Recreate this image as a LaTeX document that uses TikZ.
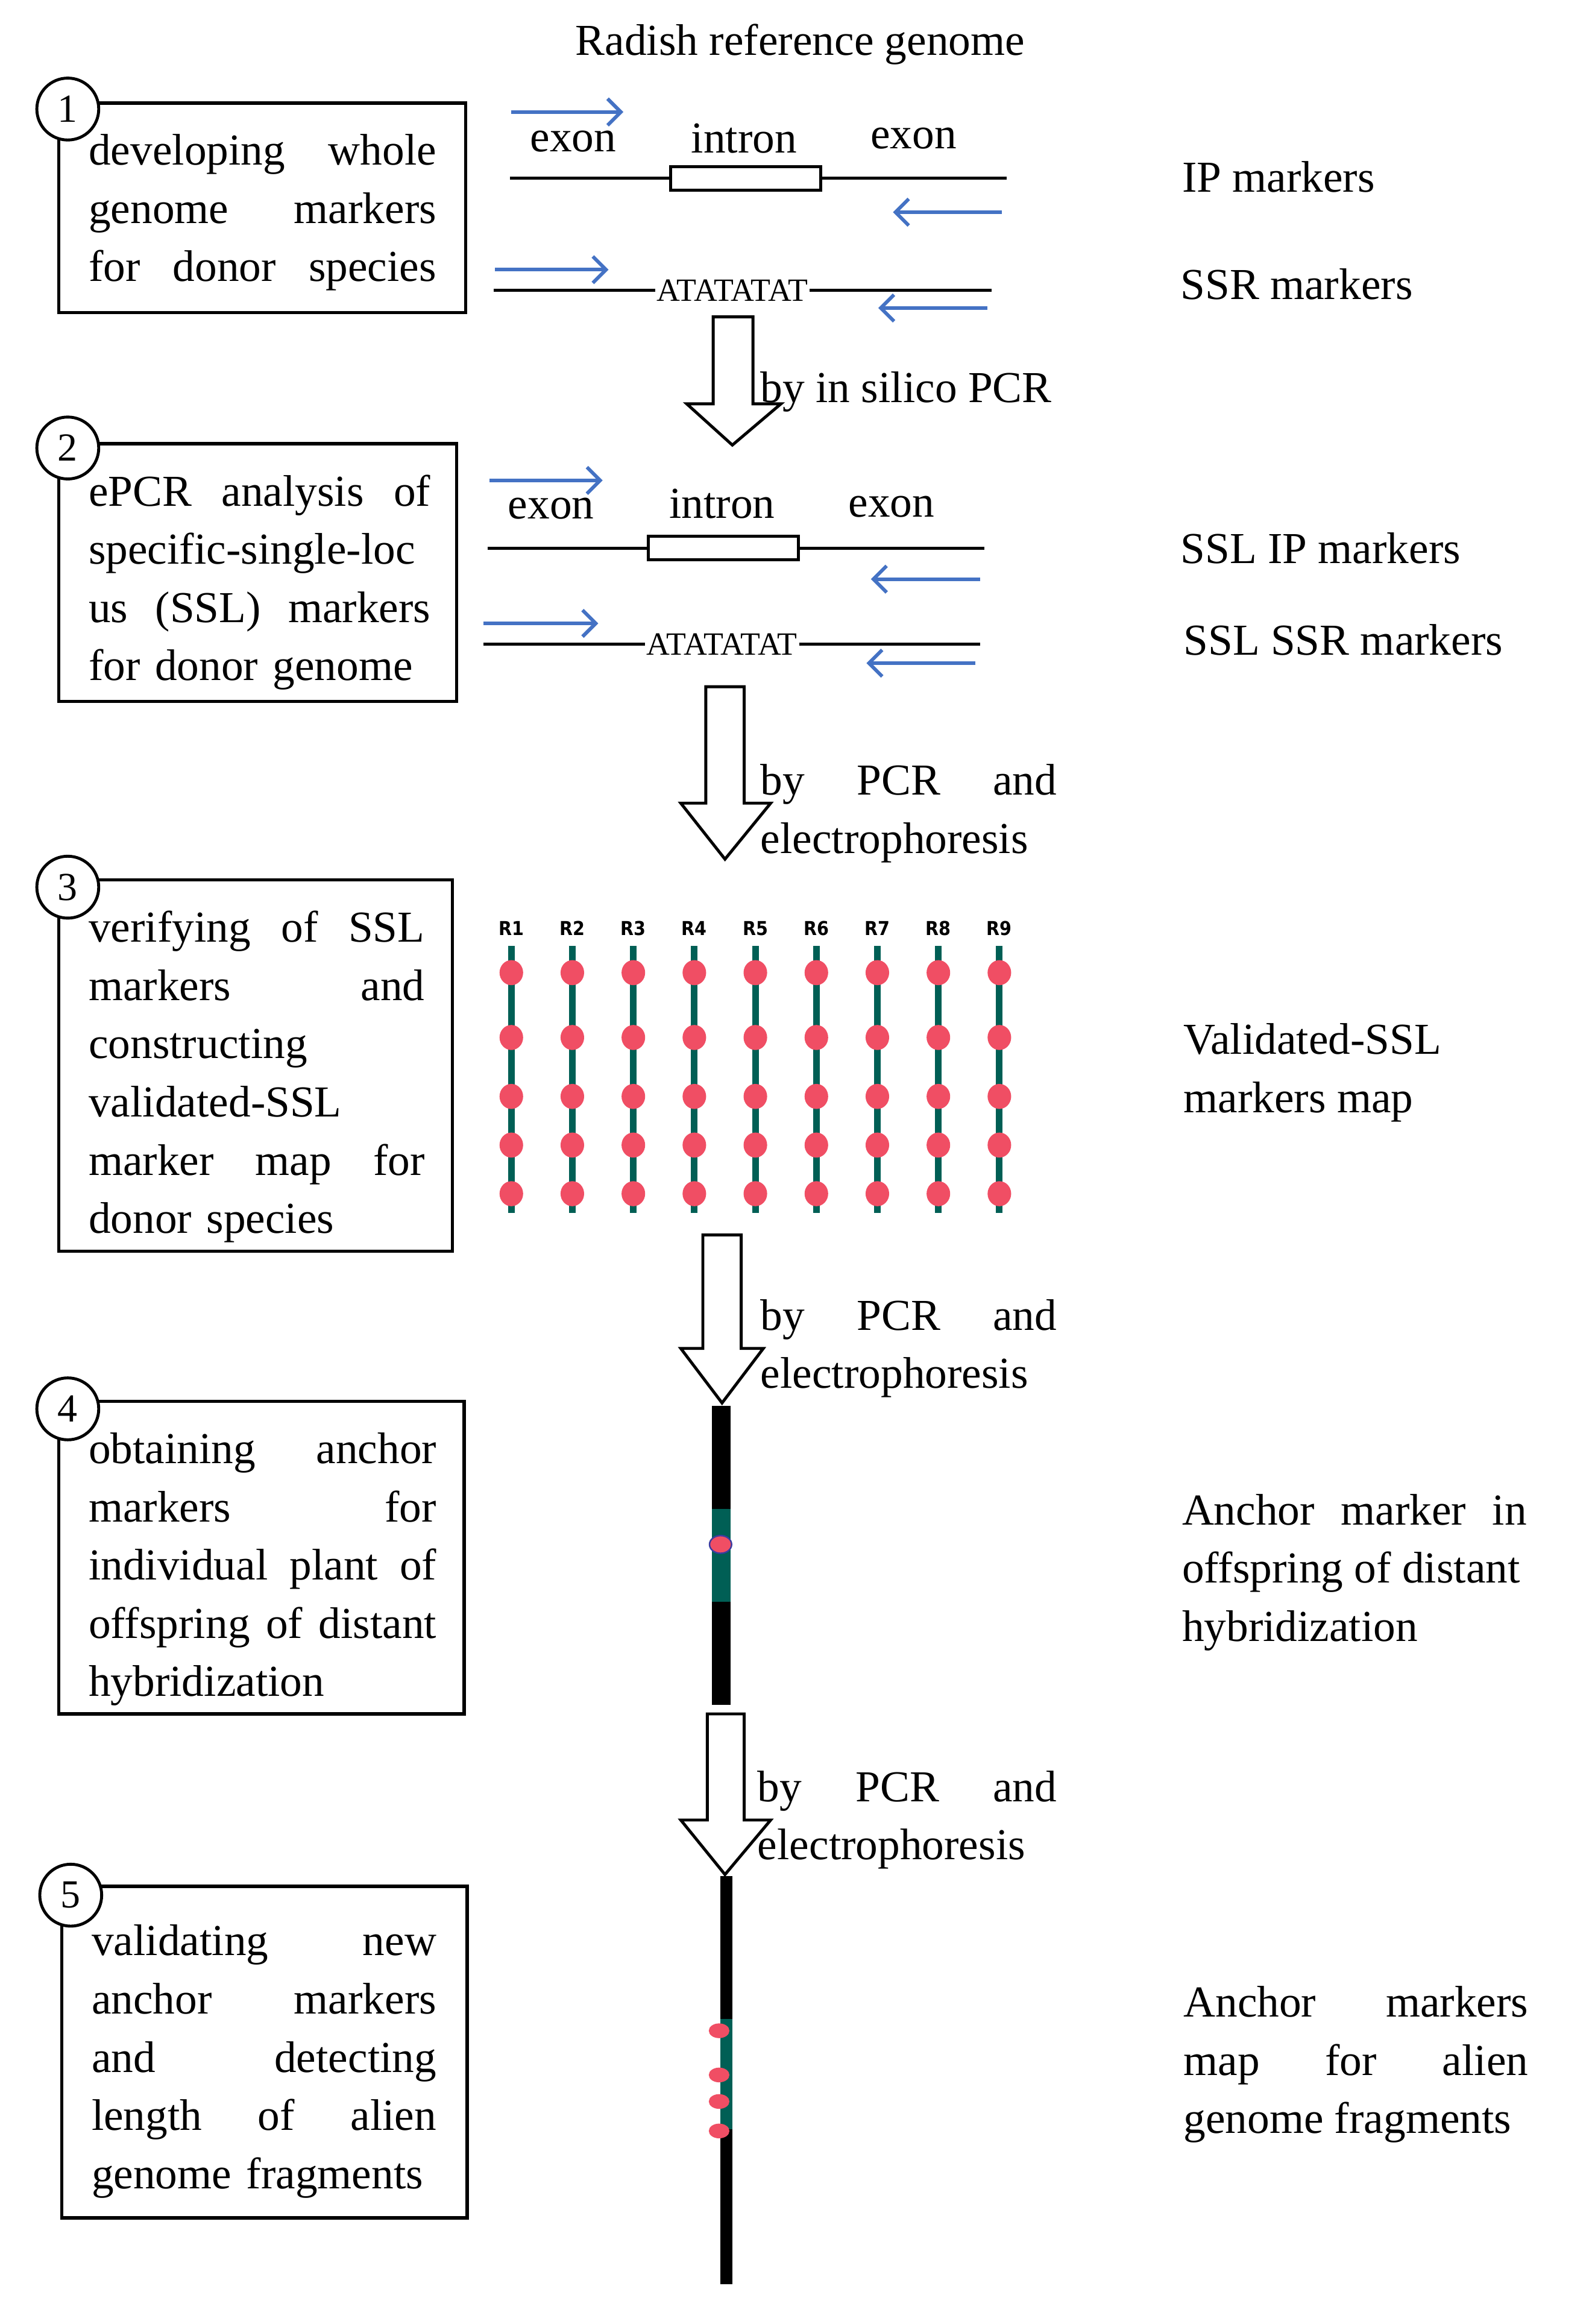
\documentclass[tikz,border=0pt]{standalone}
\usepackage{fontspec}
\setmainfont{Liberation Serif}
\newfontfamily\rsans{DejaVu Sans Condensed}
\usetikzlibrary{arrows.meta,shapes.geometric}
\definecolor{tealc}{RGB}{0,95,85}
\definecolor{pinkc}{RGB}{240,78,100}
\definecolor{bluec}{RGB}{68,114,196}
\definecolor{dotedge}{RGB}{60,60,160}
\newcommand{\jl}[2]{\makebox[#1pt][s]{\spaceskip=0.25em plus 1fill\relax #2}}
\begin{document}
\begin{tikzpicture}[x=1pt,y=-1pt,
 txt/.style={font=\fontsize{30}{39.5}\selectfont,inner sep=0pt},
 boxt/.style={txt,text width=236pt,align=left,anchor=north west},
 box/.style={draw,line width=2.2pt},
 num/.style={circle,draw,fill=white,line width=2pt,minimum size=42pt,inner sep=0pt,font=\fontsize{27}{27}\selectfont},
 blu/.style={draw=bluec,line width=2.4pt,-{Straight Barb[length=9pt,width=18pt]}},
 blk/.style={draw,line width=2pt,fill=white},
 dot/.style={ellipse,fill=pinkc,inner sep=0pt,minimum width=16pt,minimum height=17pt},
 atxt/.style={inner sep=1pt,font=\fontsize{22}{22}\selectfont},
 gene/.style={line width=2pt}]
\useasboundingbox (0,0) rectangle (1080,1577);
% title
\node[txt] (title) at (543,30) {Radish reference genome};
% boxes
\draw[box] (40,70) rectangle (316,212);
\node[boxt] (t1) at (60,91) {\jl{236}{developing whole}\\\jl{236}{genome markers}\\\jl{236}{for donor species}};
\draw[box] (40,301) rectangle (310,476);
\node[boxt] (t2) at (60,322) {\jl{232}{ePCR analysis of}\\\jl{232}{specific-single-loc}\\\jl{232}{us (SSL) markers}\\for donor genome};
\draw[box] (40,597) rectangle (307,849);
\node[boxt] (t3) at (60,618) {\jl{228}{verifying of SSL}\\\jl{228}{markers and}\\constructing\\validated-SSL\\\jl{228}{marker map for}\\donor species};
\draw[box] (40,951) rectangle (315,1163);
\node[boxt] (t4) at (60,972) {\jl{236}{obtaining anchor}\\\jl{236}{markers for}\\\jl{236}{individual plant of}\\\jl{236}{offspring of distant}\\hybridization};
\draw[box] (42,1280) rectangle (317,1505);
\node[boxt] (t5) at (62,1306) {\jl{234}{validating new}\\\jl{234}{anchor markers}\\\jl{234}{and detecting}\\\jl{234}{length of alien}\\genome fragments};
\node[num] (n1) at (46,74) {1};
\node[num] (n2) at (46,304) {2};
\node[num] (n3) at (46,602) {3};
\node[num] (n4) at (46,956) {4};
\node[num] (n5) at (48,1286) {5};
% row 1 IP
\node[txt] (e1) at (389,96) {exon};
\node[txt] (i1) at (505,94) {intron};
\node[txt] (e2) at (620,94) {exon};
\draw[gene] (346,121) -- (455,121) (557,121) -- (683,121);
\draw[gene] (455,113) rectangle (557,129);
\coordinate (a1s) at (347,76); \coordinate (a1e) at (423,76);
\draw[blu] (a1s) -- (a1e);
\coordinate (a2s) at (680,144); \coordinate (a2e) at (606,144);
\draw[blu] (a2s) -- (a2e);
\node[txt,anchor=west] (ip) at (802,120) {IP markers};
% SSR
\node[atxt] (ssr1) at (497,197) {ATATATAT};
\draw[gene] (335,197) -- (ssr1.west) (ssr1.east) -- (673,197);
\coordinate (a3s) at (336,183); \coordinate (a3e) at (413,183);
\draw[blu] (a3s) -- (a3e);
\coordinate (a4s) at (670,209); \coordinate (a4e) at (596,209);
\draw[blu] (a4s) -- (a4e);
\node[txt,anchor=west] (ssrl) at (801,193) {SSR markers};
% big arrow 1
\draw[blk] (484,215) -- (511,215) -- (511,274) -- (530,274) -- (497,302) -- (466,274) -- (484,274) -- cycle;
\node[txt,anchor=west] (l1) at (516,266) {by in silico PCR};
% row 2
\node[txt] (e3) at (374,345) {exon};
\node[txt] (i2) at (490,342) {intron};
\node[txt] (e4) at (605,344) {exon};
\draw[gene] (331,372) -- (440,372) (542,372) -- (668,372);
\draw[gene] (440,364) rectangle (542,380);
\coordinate (b1s) at (332,326); \coordinate (b1e) at (409,326);
\draw[blu] (b1s) -- (b1e);
\coordinate (b2s) at (665,393); \coordinate (b2e) at (591,393);
\draw[blu] (b2s) -- (b2e);
\node[txt,anchor=west] (sslip) at (801,372) {SSL IP markers};
\node[atxt] (ssr2) at (490,437) {ATATATAT};
\draw[gene] (328,437) -- (ssr2.west) (ssr2.east) -- (665,437);
\coordinate (b3s) at (328,423); \coordinate (b3e) at (406,423);
\draw[blu] (b3s) -- (b3e);
\coordinate (b4s) at (662,450); \coordinate (b4e) at (588,450);
\draw[blu] (b4s) -- (b4e);
\node[txt,anchor=west] (sslssr) at (803,434) {SSL SSR markers};
% big arrow 2
\draw[blk] (479,466) -- (505,466) -- (505,545) -- (523,545) -- (492,583) -- (462,545) -- (479,545) -- cycle;
\node[txt,anchor=west,align=left] (l2) at (516,552) {\jl{201}{by PCR and}\\electrophoresis};
% map
\foreach \i in {1,...,9}{
 \pgfmathsetmacro{\xx}{347+(\i-1)*41.4}
 \node[font=\rsans\bfseries\fontsize{13}{13}\selectfont,inner sep=0pt] (R\i) at (\xx,630) {R\i};
 \draw[tealc,line width=4.5pt] (\xx,642) -- (\xx,823);
 \foreach \yy in {660,704,744,777,810}{\node[dot] at (\xx,\yy) {};}
}
\node[txt,anchor=west,align=left] (vm) at (803,728) {Validated-SSL\\markers map};
% big arrow 3
\draw[blk] (477,838) -- (503,838) -- (503,915) -- (518,915) -- (490,952) -- (462,915) -- (477,915) -- cycle;
\node[txt,anchor=west,align=left] (l3) at (516,915) {\jl{201}{by PCR and}\\electrophoresis};
% chrom 4
\fill (483,954) rectangle (496,1157);
\fill[tealc] (483,1024) rectangle (496,1087);
\node[dot,draw=dotedge,line width=1pt,minimum width=15pt,minimum height=12pt] (d4) at (489,1048) {};
\node[txt,anchor=west,align=left] (am) at (802,1067) {\jl{234}{Anchor marker in}\\offspring of distant\\hybridization};
% big arrow 4
\draw[blk] (480,1163) -- (505,1163) -- (505,1235) -- (523,1235) -- (492,1272) -- (462,1235) -- (480,1235) -- cycle;
\node[txt,anchor=west,align=left] (l4) at (514,1235) {\jl{203}{by PCR and}\\electrophoresis};
% chrom 5
\fill (489,1273) rectangle (497,1550);
\fill[tealc] (489,1370) rectangle (497,1445);
\foreach \yy in {1378,1408,1426,1446}{\node[dot,minimum width=14pt,minimum height=10pt] at (488,\yy) {};}
\node[txt,anchor=west,align=left] (amm) at (803,1401) {\jl{234}{Anchor markers}\\\jl{234}{map for alien}\\genome fragments};
\end{tikzpicture}
\end{document}
